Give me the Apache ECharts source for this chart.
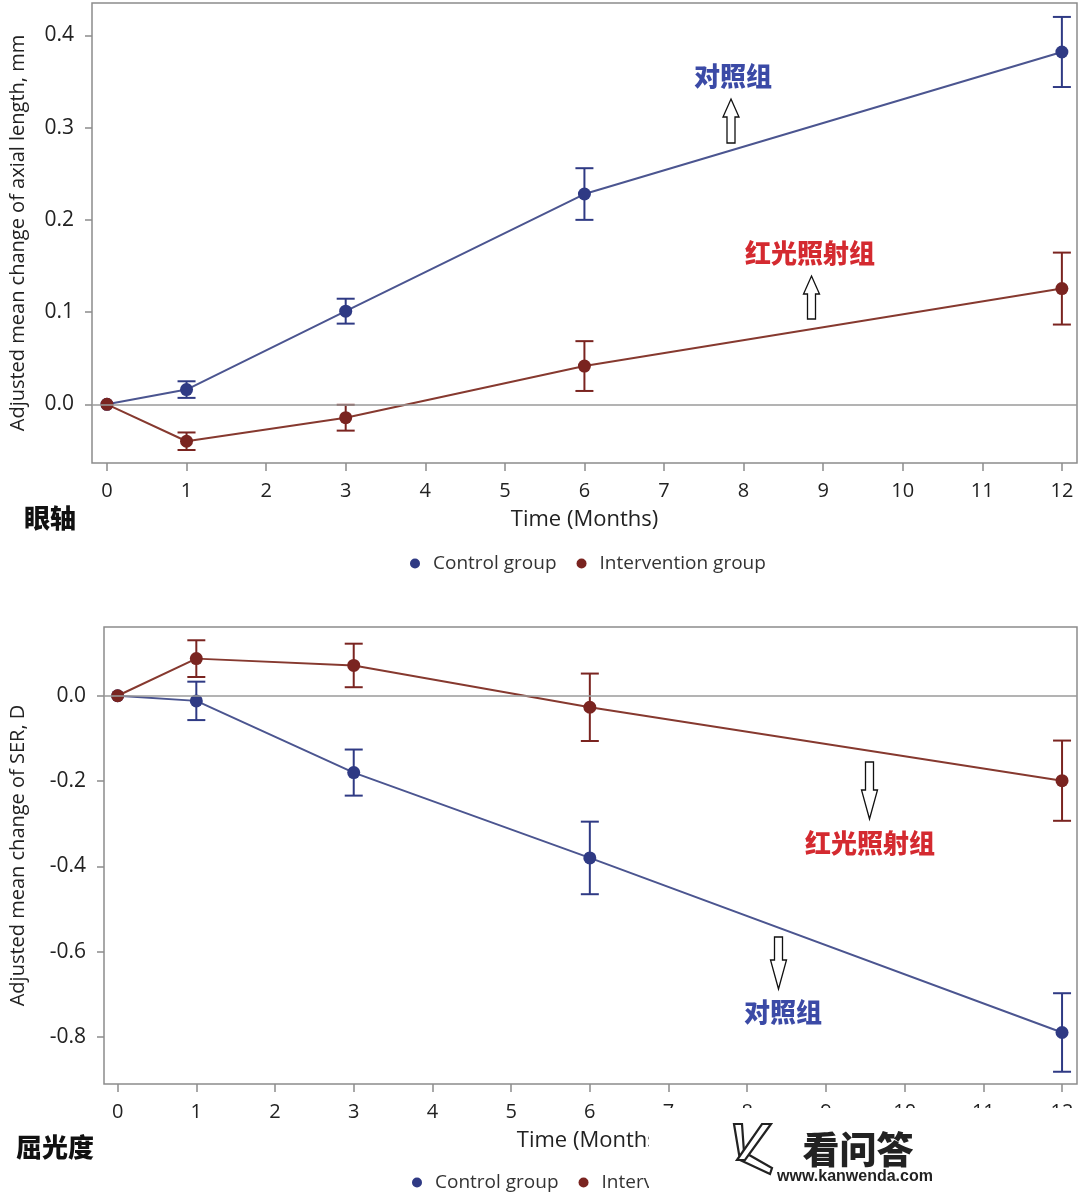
<!DOCTYPE html>
<html><head><meta charset="utf-8">
<script src="https://cdn.jsdelivr.net/npm/echarts@6/dist/echarts.min.js"></script>
<style>html,body{margin:0;padding:0;background:#fff}#c{width:1080px;height:1193px}</style>
</head><body><div id="c"></div>
<script>
// ---- data ----
const months = [0, 1, 3, 6, 12];
const seriesNames = ['Control group', 'Intervention group'];
const alControl = [0, 0.016, 0.101, 0.228, 0.382];
const alControlErr = [0, 0.009, 0.0135, 0.028, 0.038];
const alIntervention = [0, -0.040, -0.0145, 0.0415, 0.1255];
const alInterventionErr = [0, 0.0095, 0.014, 0.027, 0.039];
const serControl = [0, -0.012, -0.180, -0.380, -0.789];
const serControlErr = [0, 0.045, 0.054, 0.085, 0.092];
const serIntervention = [0, 0.087, 0.071, -0.027, -0.199];
const serInterventionErr = [0, 0.043, 0.051, 0.079, 0.094];
const xTicks = [0, 1, 2, 3, 4, 5, 6, 7, 8, 9, 10, 11, 12];
const alTicks = [0, 0.1, 0.2, 0.3, 0.4];
const serTicks = [-0.8, -0.6, -0.4, -0.2, 0];
const xTitle = 'Time (Months)';
const alTitle = 'Adjusted mean change of axial length, mm';
const serTitle = 'Adjusted mean change of SER, D';
const labelControl = '对照组';
const labelRed = '红光照射组';
const panelTop = '眼轴';
const panelBottom = '屈光度';

// ---- styles ----
const C_MARK = '#2f3a84', C_LINE = '#4b5590';
const I_MARK = '#7a2420', I_LINE = '#86392f';
const FRAME = '#8c8c8c';
const FONT = 'Open Sans';
const CJK = 'Noto Sans CJK SC';

const chart = echarts.init(document.getElementById('c'), null, {renderer: 'canvas'});

function pts(vals) { return months.map((m, i) => [m, vals[i]]); }
function errPts(vals, errs) { return months.map((m, i) => [m, vals[i], errs[i]]); }
function errRender(color) {
  return function (params, api) {
    const x = api.value(0), y = api.value(1), e = api.value(2);
    if (!e) return {type: 'group', children: []};
    const t = api.coord([x, y + e]), b = api.coord([x, y - e]);
    const hw = 9, style = {stroke: color, lineWidth: 2};
    return {type: 'group', children: [
      {type: 'line', shape: {x1: t[0], y1: t[1], x2: b[0], y2: b[1]}, style},
      {type: 'line', shape: {x1: t[0] - hw, y1: t[1], x2: t[0] + hw, y2: t[1]}, style},
      {type: 'line', shape: {x1: b[0] - hw, y1: b[1], x2: b[0] + hw, y2: b[1]}, style}
    ]};
  };
}
function xAxisCfg(gi, min, max) {
  return {
    type: 'value', gridIndex: gi, min, max, position: 'bottom',
    axisLine: {show: false, onZero: false}, splitLine: {show: false},
    axisTick: {show: true, length: 8, customValues: xTicks, lineStyle: {color: FRAME, width: 1.5}},
    axisLabel: {customValues: xTicks, fontSize: 20, color: '#222', margin: 18, fontFamily: FONT},
    name: xTitle, nameLocation: 'middle', nameGap: 46,
    nameTextStyle: {fontSize: 22, color: '#222', fontFamily: FONT}
  };
}
function yAxisCfg(gi, min, max, ticks, title, gap) {
  return {
    type: 'value', gridIndex: gi, min, max, position: 'left',
    axisLine: {show: false, onZero: false}, splitLine: {show: false},
    axisTick: {show: true, length: 7, customValues: ticks, lineStyle: {color: FRAME, width: 1.5}},
    axisLabel: {customValues: ticks, fontSize: 21, color: '#222', margin: 18, fontFamily: FONT,
      formatter: v => v.toFixed(1)},
    name: title, nameLocation: 'middle', nameGap: gap, nameRotate: 90,
    nameTextStyle: {fontSize: 20, color: '#222', fontFamily: FONT}
  };
}
function lineSeries(name, gi, vals, markColor, lineColor, z) {
  return {
    name, type: 'line', xAxisIndex: gi, yAxisIndex: gi, data: pts(vals),
    symbol: 'circle', symbolSize: 13, z,
    itemStyle: {color: markColor}, lineStyle: {color: lineColor, width: 2},
    emphasis: {disabled: true}, animation: false
  };
}
function errSeries(name, gi, vals, errs, color) {
  return {
    name, type: 'custom', xAxisIndex: gi, yAxisIndex: gi, data: errPts(vals, errs),
    encode: {x: 0, y: 1}, renderItem: errRender(color), z: 1, silent: true, animation: false
  };
}
const zeroLine = {silent: true, symbol: 'none', label: {show: false},
  lineStyle: {color: '#9a9a9a', width: 1.5, type: 'solid'}, data: [{yAxis: 0}], animation: false};

function arrow(cx, tipY, baseY, headLen, headHalf, shaftHalf) {
  const dir = baseY > tipY ? 1 : -1;
  const hy = tipY + dir * headLen;
  return {type: 'polygon', z: 50,
    shape: {points: [[cx, tipY], [cx + headHalf, hy], [cx + shaftHalf, hy], [cx + shaftHalf, baseY],
      [cx - shaftHalf, baseY], [cx - shaftHalf, hy], [cx - headHalf, hy]]},
    style: {fill: '#fff', stroke: '#111', lineWidth: 1.3}};
}
function ctext(txt, x, y, color, size) {
  return {type: 'text', x, y, z: 50,
    style: {text: txt, fill: color, font: `900 ${size}px "${CJK}"`, align: 'center', verticalAlign: 'middle'}};
}

const legendText = {fontSize: 19, color: '#333', fontFamily: FONT};
const option = {
  backgroundColor: '#fff',
  animation: false,
  grid: [
    {left: 92, top: 3, width: 985, height: 460, show: true, borderColor: FRAME, borderWidth: 1.5},
    {left: 100, top: 627, width: 977, height: 457, show: true, borderColor: FRAME, borderWidth: 1.5}
  ],
  xAxis: [xAxisCfg(0, -0.188, 12.19), xAxisCfg(1, -0.173, 12.19)],
  yAxis: [yAxisCfg(0, -0.0636, 0.4351, alTicks, alTitle, 64), yAxisCfg(1, -0.9097, 0.1611, serTicks, serTitle, 76)],
  legend: [
    {data: seriesNames, left: 405, top: 549, icon: 'circle', itemWidth: 26, itemHeight: 10, itemGap: 20, textStyle: legendText},
    {data: seriesNames, left: 407, top: 1168, icon: 'circle', itemWidth: 26, itemHeight: 10, itemGap: 20, textStyle: legendText}
  ],
  series: [
    errSeries('ctrlErrAL', 0, alControl, alControlErr, C_MARK),
    errSeries('intErrAL', 0, alIntervention, alInterventionErr, I_MARK),
    Object.assign(lineSeries(seriesNames[0], 0, alControl, C_MARK, C_LINE, 3), {markLine: zeroLine}),
    lineSeries(seriesNames[1], 0, alIntervention, I_MARK, I_LINE, 4),
    errSeries('ctrlErrSER', 1, serControl, serControlErr, C_MARK),
    errSeries('intErrSER', 1, serIntervention, serInterventionErr, I_MARK),
    Object.assign(lineSeries(seriesNames[0], 1, serControl, C_MARK, C_LINE, 3), {markLine: zeroLine}),
    lineSeries(seriesNames[1], 1, serIntervention, I_MARK, I_LINE, 4)
  ],
  graphic: [
    ctext(labelControl, 733, 76, '#3b4aa6', 26),
    arrow(731, 99, 143, 18, 8, 4),
    ctext(labelRed, 810, 253, '#d42a30', 26),
    arrow(811.5, 276, 319, 18, 8, 4),
    arrow(869.5, 819, 762, 29, 8, 4),
    ctext(labelRed, 870, 843, '#d42a30', 26),
    arrow(778.5, 989, 937, 29, 8, 4),
    ctext(labelControl, 783, 1012, '#3b4aa6', 26),
    {type: 'text', x: 50, y: 518, z: 50, style: {text: panelTop, fill: '#111', font: `900 26px "${CJK}"`, align: 'center', verticalAlign: 'middle'}},
    {type: 'text', x: 55, y: 1147, z: 50, style: {text: panelBottom, fill: '#111', font: `900 26px "${CJK}"`, align: 'center', verticalAlign: 'middle'}},
    // watermark overlay
    {type: 'rect', z: 100, shape: {x: 649, y: 1108, width: 431, height: 85}, style: {fill: '#fff'}},
    {type: 'polygon', z: 101, shape: {points: [[734, 1124], [742, 1124], [744, 1152], [772, 1168], [770, 1174], [740, 1160]]},
      style: {fill: '#fff', stroke: '#222', lineWidth: 2.2}},
    {type: 'polygon', z: 101, shape: {points: [[762, 1124], [771, 1124], [745, 1160], [737, 1160]]},
      style: {fill: '#fff', stroke: '#222', lineWidth: 2.2}},
    {type: 'text', x: 858, y: 1150, z: 101, style: {text: '看问答', fill: '#222', font: `900 37px "${CJK}"`, align: 'center', verticalAlign: 'middle'}},
    {type: 'text', x: 855, y: 1177, z: 101, style: {text: 'www.kanwenda.com', fill: '#222', font: 'bold 16px "Liberation Sans"', align: 'center', verticalAlign: 'middle'}}
  ]
};
chart.setOption(option);
</script>
</body></html>
